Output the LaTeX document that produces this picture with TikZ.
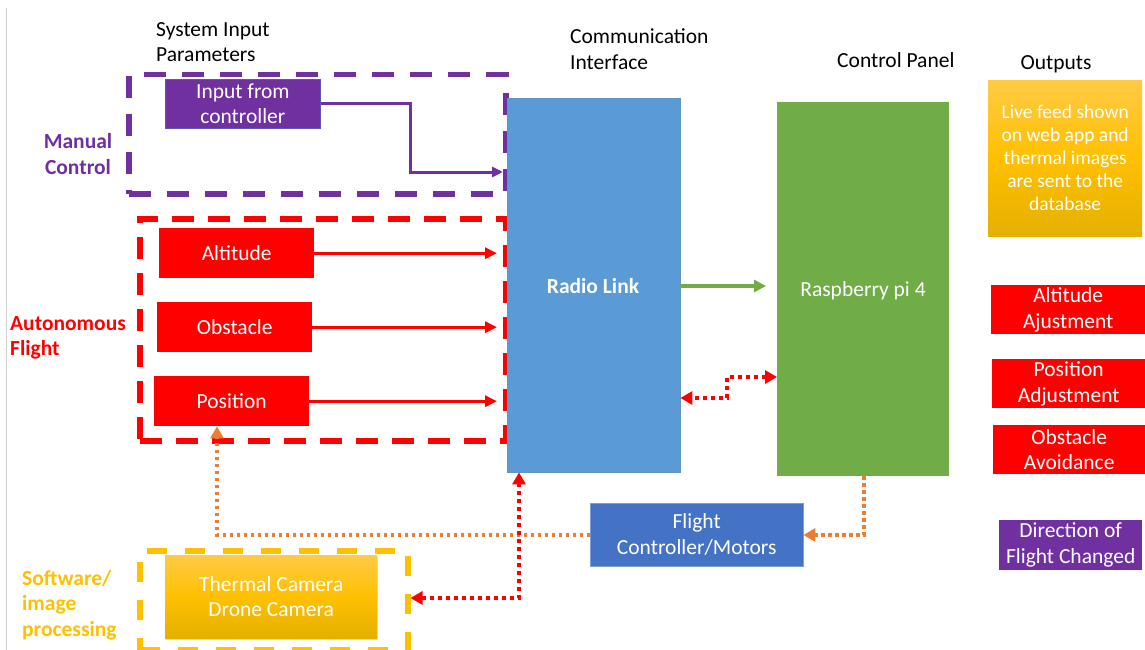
\documentclass[tikz,border=0pt]{standalone}
\usepackage{fontspec}
\setmainfont{Carlito}
\usetikzlibrary{arrows.meta,shadows}
\definecolor{cpurple}{HTML}{7030A0}
\definecolor{cred}{HTML}{FF0000}
\definecolor{cyellow}{HTML}{FFC000}
\definecolor{ytop}{HTML}{FFCA45}
\definecolor{ybot}{HTML}{E4B000}
\definecolor{cblue}{HTML}{5B9BD5}
\definecolor{cdblue}{HTML}{4472C4}
\definecolor{cgreen}{HTML}{70AD47}
\definecolor{corange}{HTML}{ED7D31}
\tikzset{
  box/.style={rectangle, inner sep=0pt, anchor=north west, text=white, align=center},
  frame/.style={rectangle, inner sep=0pt, anchor=north west, line width=5.5pt},
  lbl/.style={inner sep=0pt, align=left, anchor=west},
  rarrow/.style={draw=cred, line width=3pt, -{Triangle[length=12pt,width=11pt]}},
  parrow/.style={draw=cpurple, line width=3pt, -{Triangle[length=11pt,width=10pt]}},
  garrow/.style={draw=cgreen, line width=3.5pt, -{Triangle[length=12pt,width=12pt]}},
  rdot/.style={draw=cred, line width=4pt, dash pattern=on 4pt off 4pt, {Triangle[length=12pt,width=13pt]}-{Triangle[length=12pt,width=13pt]}},
  odot/.style={draw=corange, line width=3.5pt, dash pattern=on 3.5pt off 3.5pt, -{Triangle[length=12pt,width=13pt]}}
}
\begin{document}
\begin{tikzpicture}[x=1pt,y=-1pt,font=\fontsize{21.5}{25.6}\selectfont]
\useasboundingbox (0,0) rectangle (1145,650);
\fill[white] (0,0) rectangle (1145,650);
\draw[gray!35, line width=1pt] (6,8) -- (6,650);

% headings
\node[lbl] (h1) at (156,42) {System Input\\Parameters};
\node[lbl] (h2) at (570,49) {Communication\\Interface};
\node[lbl] (h3) at (837,60) {Control Panel};
\node[inner sep=0pt] (h4) at (1056,64) {Outputs};

% side labels
\node[inner sep=0pt, align=center, text=cpurple, font=\fontsize{21.5}{25.6}\selectfont\bfseries] (lman) at (78,154) {Manual\\Control};
\node[lbl, text=cred, font=\fontsize{21.5}{25.6}\selectfont\bfseries] (laut) at (10,338) {Autonomous\\Flight};
\node[lbl, text=cyellow, font=\fontsize{21.5}{25.6}\selectfont\bfseries] (lsw) at (22,605) {Software/\\image\\processing};

% dashed frames
\node[frame, draw=cpurple, dash pattern=on 22pt off 16pt, minimum width=377pt, minimum height=119pt] (fman) at (126,72) {};
\node[frame, draw=cred, dash pattern=on 22pt off 14pt, minimum width=366pt, minimum height=222pt] (faut) at (137,216) {};
\node[frame, draw=cyellow, dash pattern=on 20pt off 18pt, minimum width=268pt, minimum height=99pt] (sw) at (137,548) {};

% input boxes
\node[box, fill=cpurple, draw=cdblue!60!cpurple, line width=0.8pt, minimum width=155pt, minimum height=49pt] (ctrl) at (165,79) {Input from\\controller};
\node[box, fill=cred, minimum width=155pt, minimum height=50pt] (alt) at (159,228) {Altitude};
\node[box, fill=cred, minimum width=155pt, minimum height=50pt] (obs) at (157,302) {Obstacle};
\node[box, fill=cred, minimum width=155pt, minimum height=50pt] (pos) at (154,376) {Position};
\node[box, top color=ytop, bottom color=ybot, middle color=cyellow, minimum width=212pt, minimum height=83pt,
      drop shadow={opacity=0.3, shadow xshift=1pt, shadow yshift=-2pt}] (cam) at (165,555) {Thermal Camera\\Drone Camera};

% central blocks
\node[box, fill=cblue, draw=cblue!80!gray, minimum width=173pt, minimum height=374pt] (rl) at (507,98) {};
\node[text=white, inner sep=0pt, font=\fontsize{21.5}{25.6}\selectfont\bfseries] (rlt) at (593,286) {Radio Link};
\node[box, fill=cgreen, minimum width=172pt, minimum height=374pt] (rpi) at (777,102) {};
\node[text=white, inner sep=0pt] (rpit) at (863,291) {Raspberry pi 4};
\node[box, fill=cdblue, draw=cdblue!70!white, minimum width=213pt, minimum height=63pt] (fc) at (590,503) {Flight\\Controller/Motors};

% outputs
\node[box, top color=ytop, bottom color=ybot, middle color=cyellow, minimum width=154pt, minimum height=156pt,
      font=\fontsize{19.5}{23}\selectfont] (live) at (988,80) {Live feed shown\\on web app and\\thermal images\\are sent to the\\database};
\node[box, fill=cred, minimum width=154pt, minimum height=49pt] (o1) at (991,285) {Altitude\\Ajustment};
\node[box, fill=cred, minimum width=153pt, minimum height=49pt] (o2) at (992,359) {Position\\Adjustment};
\node[box, fill=cred, minimum width=152pt, minimum height=49pt] (o3) at (993,425) {Obstacle\\Avoidance};
\node[box, fill=cpurple, minimum width=143pt, minimum height=50pt] (o4) at (999,520) {Direction of\\Flight Changed};

% connectors
\coordinate (pin) at (503,172);
\draw[parrow] (ctrl.east) -| (410,172) -- (pin);
\draw[rarrow] (alt.east) -- ([xshift=-10pt]rl.west |- alt.east);
\draw[rarrow] (obs.east) -- ([xshift=-10pt]rl.west |- obs.east);
\draw[rarrow] (pos.east) -- ([xshift=-10pt]rl.west |- pos.east);

\coordinate (g1) at (766,286);
\draw[garrow] (rl.east |- g1) -- (g1);

\coordinate (d1) at (727,377);
\coordinate (d2) at (727,398);
\draw[rdot] (rpi.west |- d1) -- (d1) -- (d2) -- (rl.east |- d2);

\coordinate (oc1) at (864,535);
\draw[odot] (rpi.south -| oc1) -- (oc1) -- (fc.east |- oc1);
\coordinate (oc2) at (217,535);
\draw[odot] (fc.west |- oc2) -- (oc2) -- (pos.south -| oc2);

\coordinate (r1) at (519,598);
\draw[rdot] (sw.east |- r1) -- (r1) -- (rl.south -| r1);
\end{tikzpicture}
\end{document}
